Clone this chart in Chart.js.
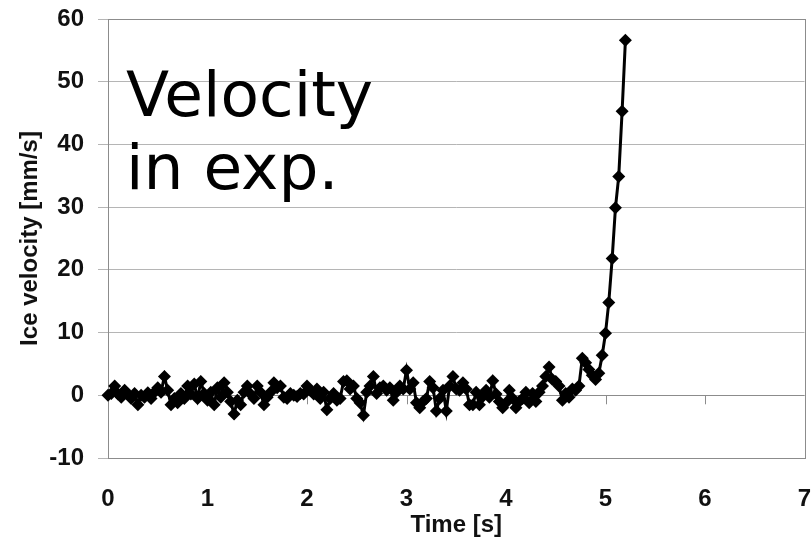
<!DOCTYPE html>
<html>
<head>
<meta charset="utf-8">
<script src="https://cdn.jsdelivr.net/npm/chart.js@4"></script>
<style>
  html, body { margin: 0; padding: 0; background: #ffffff; }
  #wrap { position: relative; width: 811px; height: 540px; overflow: hidden; }
  #c { position: absolute; left: 0; top: 0; }
  #note { position: absolute; left: 126px; top: 58px; font-family: "DejaVu Sans", sans-serif;
          font-size: 63px; line-height: 73px; color: #000; white-space: nowrap; }
</style>
</head>
<body>
<div id="wrap">
  <canvas id="c" width="811" height="540"></canvas>
  <div id="note">Velocity<br>in exp.</div>
</div>
<script>
// ---- data ----
const timeSec = [
  0.000,0.033,0.067,0.100,0.133,0.167,0.200,0.233,0.267,0.300,
  0.333,0.367,0.400,0.433,0.467,0.500,0.533,0.567,0.600,0.633,
  0.667,0.700,0.733,0.767,0.800,0.833,0.867,0.900,0.933,0.967,
  1.000,1.033,1.067,1.100,1.133,1.167,1.200,1.233,1.267,1.300,
  1.333,1.367,1.400,1.433,1.467,1.500,1.533,1.567,1.600,1.633,
  1.667,1.700,1.733,1.767,1.800,1.833,1.867,1.900,1.933,1.967,
  2.000,2.033,2.067,2.100,2.133,2.167,2.200,2.233,2.267,2.300,
  2.333,2.367,2.400,2.433,2.467,2.500,2.533,2.567,2.600,2.633,
  2.667,2.700,2.733,2.767,2.800,2.833,2.867,2.900,2.933,2.967,
  3.000,3.033,3.067,3.100,3.133,3.167,3.200,3.233,3.267,3.300,
  3.333,3.367,3.400,3.433,3.467,3.500,3.533,3.567,3.600,3.633,
  3.667,3.700,3.733,3.767,3.800,3.833,3.867,3.900,3.933,3.967,
  4.000,4.033,4.067,4.100,4.133,4.167,4.200,4.233,4.267,4.300,
  4.333,4.367,4.400,4.433,4.467,4.500,4.533,4.567,4.600,4.633,
  4.667,4.700,4.733,4.767,4.800,4.833,4.867,4.900,4.933,4.967,
  5.000,5.033,5.067,5.100,5.133,5.167,5.200
];
const iceVelocity = [
  0, 0.3, 1.5, 0.2, -0.3, 0.8, 0.2, -0.5, 0.3, -1.5,
  0, -0.3, 0.4, -0.5, 0.5, 1.2, 0.5, 3.0, 0.8, -1.5,
  -0.5, -1.2, 0.3, -0.5, 1.5, 0.2, 1.8, -0.5, 2.2, 0.3,
  -0.8, 0.5, -1.5, 1.2, -0.3, 2.0, 0.5, -1.0, -3.0, -0.8,
  -1.5, 0.5, 1.5, 0.2, -0.5, 1.5, 0.5, -1.5, -0.3, 0.5,
  2.0, 1.2, 1.5, -0.3, -0.5, 0.3, 0, -0.2, 0.3, 0.2,
  1.5, 0.8, 0.2, 1.0, -0.5, 0.5, -2.3, -0.5, 0.3, -0.8,
  -0.5, 2.2, 2.3, 1.0, 1.5, -0.5, -1.2, -3.2, 0.5, 1.5,
  3.0, 0.3, 1.2, 1.5, 0.8, 1.2, -0.8, 0.5, 1.5, 1.0,
  4.0, 1.0, 2.0, -1.2, -2.0, -1.0, -0.5, 2.2, 1.2, -2.5,
  -0.5, 0.8, -2.5, 1.5, 3.0, 1.0, 0.8, 2.0, 1.0, -1.5,
  -1.5, 0.5, -1.5, -0.2, 0.8, -0.3, 2.3, 0.2, -1.0, -2.0,
  -1.2, 0.8, -0.5, -2.0, -1.0, -0.5, 0.5, -1.2, 0.3, -1.0,
  0.5, 1.5, 3.0, 4.5, 2.5, 2.2, 1.5, -0.8, 0.3, -0.3,
  1.0, 0.8, 1.5, 5.9, 5.2, 4.1, 3.2, 2.5, 3.5, 6.4,
  9.9, 14.8, 21.8, 29.9, 34.9, 45.3, 56.6
];
const xTickRange = [0, 7];
const yTickRange = [-10, 60];
const xAxisTitle = 'Time [s]';
const yAxisTitle = 'Ice velocity [mm/s]';

const points = timeSec.map((t, i) => ({ x: t, y: iceVelocity[i] }));

const tickFont = { family: '"Liberation Sans", Arial, sans-serif', size: 24, weight: 'bold' };

const framePlugin = {
  id: 'frame',
  beforeDatasetsDraw(chart) {
    const { ctx, chartArea: a, scales } = chart;
    const xs = scales.x, ys = scales.y;
    const y0 = ys.getPixelForValue(0);
    ctx.save();
    ctx.strokeStyle = '#8c8c8c';
    ctx.lineWidth = 1;
    ctx.strokeRect(Math.round(a.left) + 0.5, Math.round(a.top) + 0.5,
                   Math.round(a.right - a.left), Math.round(a.bottom - a.top));
    ctx.beginPath();
    ctx.moveTo(a.left, Math.round(y0) + 0.5);
    ctx.lineTo(a.right, Math.round(y0) + 0.5);
    for (let v = xTickRange[0]; v <= xTickRange[1]; v++) {
      const px = Math.round(xs.getPixelForValue(v)) + 0.5;
      ctx.moveTo(px, y0);
      ctx.lineTo(px, y0 + 9);
    }
    ctx.stroke();
    ctx.restore();
  }
};

new Chart(document.getElementById('c'), {
  type: 'scatter',
  data: {
    datasets: [{
      data: points,
      showLine: true,
      borderColor: '#000000',
      borderWidth: 3,
      backgroundColor: '#000000',
      pointStyle: 'rectRot',
      pointRadius: 6.5,
      pointBorderWidth: 0,
      pointBackgroundColor: '#000000',
      tension: 0
    }]
  },
  options: {
    responsive: false,
    animation: false,
    clip: false,
    layout: { padding: { top: 19, right: 5, left: 0, bottom: 0 } },
    plugins: { legend: { display: false }, tooltip: { enabled: false } },
    scales: {
      x: {
        type: 'linear',
        position: 'bottom',
        min: xTickRange[0],
        max: xTickRange[1],
        ticks: { stepSize: 1, font: tickFont, color: '#111', padding: 19, maxRotation: 0, autoSkip: false },
        grid: { display: false },
        border: { display: false },
        title: { display: true, text: xAxisTitle, font: tickFont, color: '#111', padding: { top: 0, bottom: 0 } },
        afterFit(s) { s.height = 82; s.paddingLeft = 0; s.paddingRight = 0; }
      },
      y: {
        min: yTickRange[0],
        max: yTickRange[1],
        ticks: { stepSize: 10, font: tickFont, color: '#111', padding: 14 },
        grid: { color: '#b5b5b5', lineWidth: 1, tickLength: 10, drawTicks: true },
        border: { display: true, color: '#8c8c8c' },
        title: { display: true, text: yAxisTitle, font: tickFont, color: '#111', padding: { top: 16, bottom: 0 } },
        afterFit(s) { s.width = 108; s.paddingTop = 0; s.paddingBottom = 0; }
      }
    }
  },
  plugins: [framePlugin]
});
</script>
</body>
</html>
